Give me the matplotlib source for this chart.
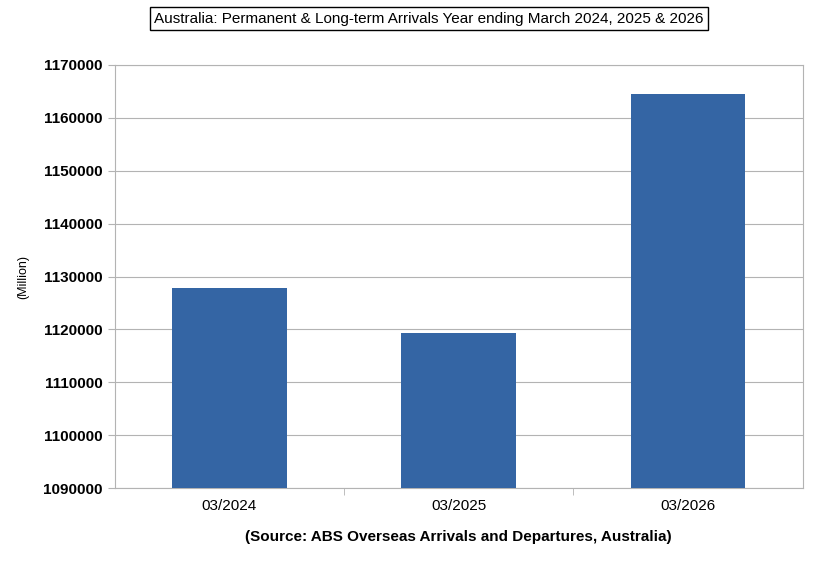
import matplotlib.pyplot as plt
import numpy as np

plt.rcParams["font.family"] = ["Liberation Sans", "DejaVu Sans"]

categories = ["03/2024", "03/2025", "03/2026"]
arrivals = [1127900, 1119400, 1164500]

fig = plt.figure(figsize=(8.2, 5.69), dpi=100)
ax = fig.add_axes([0.140, 0.142, 0.839, 0.744])

x = np.arange(len(categories))
ax.bar(x, arrivals, width=0.5, color="#3465a4", zorder=3)

ax.set_xlim(-0.5, 2.5)
ax.set_ylim(1090000, 1170000)
ax.set_yticks(np.arange(1090000, 1170001, 10000))
ax.set_yticklabels([str(v) for v in range(1090000, 1170001, 10000)],
                   fontweight="bold", fontsize=11)
ax.set_xticks(x)
ax.set_xticklabels(categories, fontsize=11)
ax.set_xticks([0.5, 1.5], minor=True)
ax.tick_params(axis="x", which="major", length=0, pad=8)
ax.tick_params(axis="x", which="minor", length=5, color="#b3b3b3")
ax.tick_params(axis="y", length=5, color="#b3b3b3")
ax.grid(axis="y", color="#b3b3b3", linewidth=0.8, zorder=0)
for s in ax.spines.values():
    s.set_color("#b3b3b3")

ax.set_ylabel("(Million)", fontsize=9, labelpad=10)
ax.set_xlabel("(Source: ABS Overseas Arrivals and Departures, Australia)",
              fontweight="bold", fontsize=11, labelpad=12)

fig.text(0.523, 0.967, "Australia: Permanent & Long-term Arrivals Year ending March 2024, 2025 & 2026",
         ha="center", va="center", fontsize=11,
         bbox=dict(boxstyle="square,pad=0.3", facecolor="white", edgecolor="black", linewidth=1))

fig.savefig("out.png", dpi=100)
